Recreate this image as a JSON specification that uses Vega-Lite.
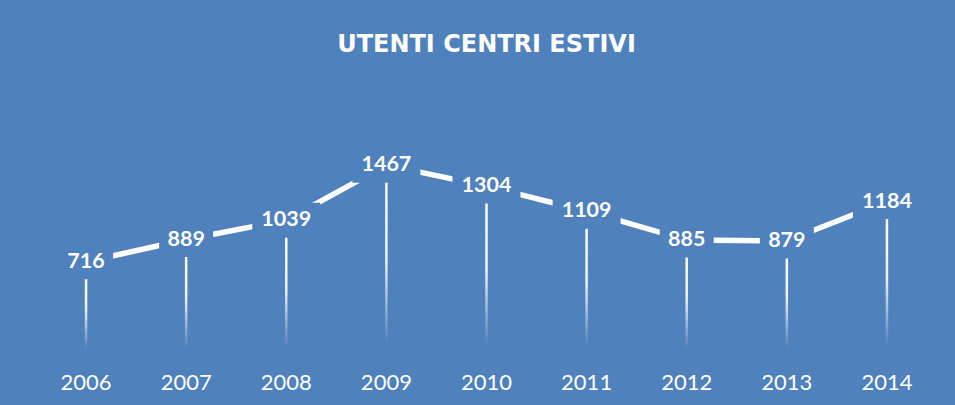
{
  "$schema": "https://vega.github.io/schema/vega-lite/v6.json",
  "width": 901,
  "height": 206,
  "autosize": "none",
  "padding": {"left": 36, "top": 148, "right": 18, "bottom": 51},
  "background": "#4F81BD",
  "config": {"view": {"stroke": null}},
  "title": {
    "text": "UTENTI CENTRI ESTIVI",
    "color": "white",
    "font": "DejaVu Sans",
    "fontSize": 24,
    "fontWeight": "bold",
    "anchor": "middle",
    "offset": 91,
    "limit": 0
  },
  "data": {
    "values": [
      {"anno": "2006", "utenti": 716},
      {"anno": "2007", "utenti": 889},
      {"anno": "2008", "utenti": 1039},
      {"anno": "2009", "utenti": 1467},
      {"anno": "2010", "utenti": 1304},
      {"anno": "2011", "utenti": 1109},
      {"anno": "2012", "utenti": 885},
      {"anno": "2013", "utenti": 879},
      {"anno": "2014", "utenti": 1184}
    ]
  },
  "encoding": {
    "x": {
      "field": "anno",
      "type": "ordinal",
      "scale": {"paddingInner": 0, "paddingOuter": 0},
      "axis": {
        "title": null,
        "labelAngle": 0,
        "labelColor": "white",
        "labelFont": "Lato",
        "labelFontSize": 22,
        "labelPadding": 18,
        "domain": false,
        "ticks": false
      }
    },
    "y": {
      "field": "utenti",
      "type": "quantitative",
      "scale": {"domain": [0, 1600], "nice": false},
      "axis": null
    }
  },
  "layer": [
    {
      "mark": {
        "type": "bar",
        "width": 2.5,
        "color": {
          "gradient": "linear",
          "x1": 0, "y1": 0, "x2": 0, "y2": 1,
          "stops": [
            {"offset": 0, "color": "white"},
            {"offset": 0.5, "color": "rgba(255,255,255,0.9)"},
            {"offset": 0.95, "color": "rgba(255,255,255,0)"},
            {"offset": 1, "color": "rgba(255,255,255,0)"}
          ]
        }
      },
      "encoding": {"y2": {"datum": 0}}
    },
    {
      "mark": {"type": "line", "color": "white", "strokeWidth": 5.5, "strokeCap": "butt"}
    },
    {
      "transform": [{"filter": "datum.utenti >= 1000"}],
      "mark": {
        "type": "point",
        "shape": "M-1,-0.515L1,-0.515L1,0.515L-1,0.515Z",
        "size": 4624,
        "filled": true,
        "fill": "#4F81BD",
        "stroke": null,
        "opacity": 1
      }
    },
    {
      "transform": [{"filter": "datum.utenti < 1000"}],
      "mark": {
        "type": "point",
        "shape": "M-1,-0.65L1,-0.65L1,0.65L-1,0.65Z",
        "size": 2916,
        "filled": true,
        "fill": "#4F81BD",
        "stroke": null,
        "opacity": 1
      }
    },
    {
      "mark": {
        "type": "text",
        "color": "white",
        "font": "Lato",
        "fontSize": 21.5,
        "fontWeight": "bold",
        "baseline": "middle",
        "align": "center"
      },
      "encoding": {"text": {"field": "utenti", "type": "quantitative"}}
    }
  ]
}
